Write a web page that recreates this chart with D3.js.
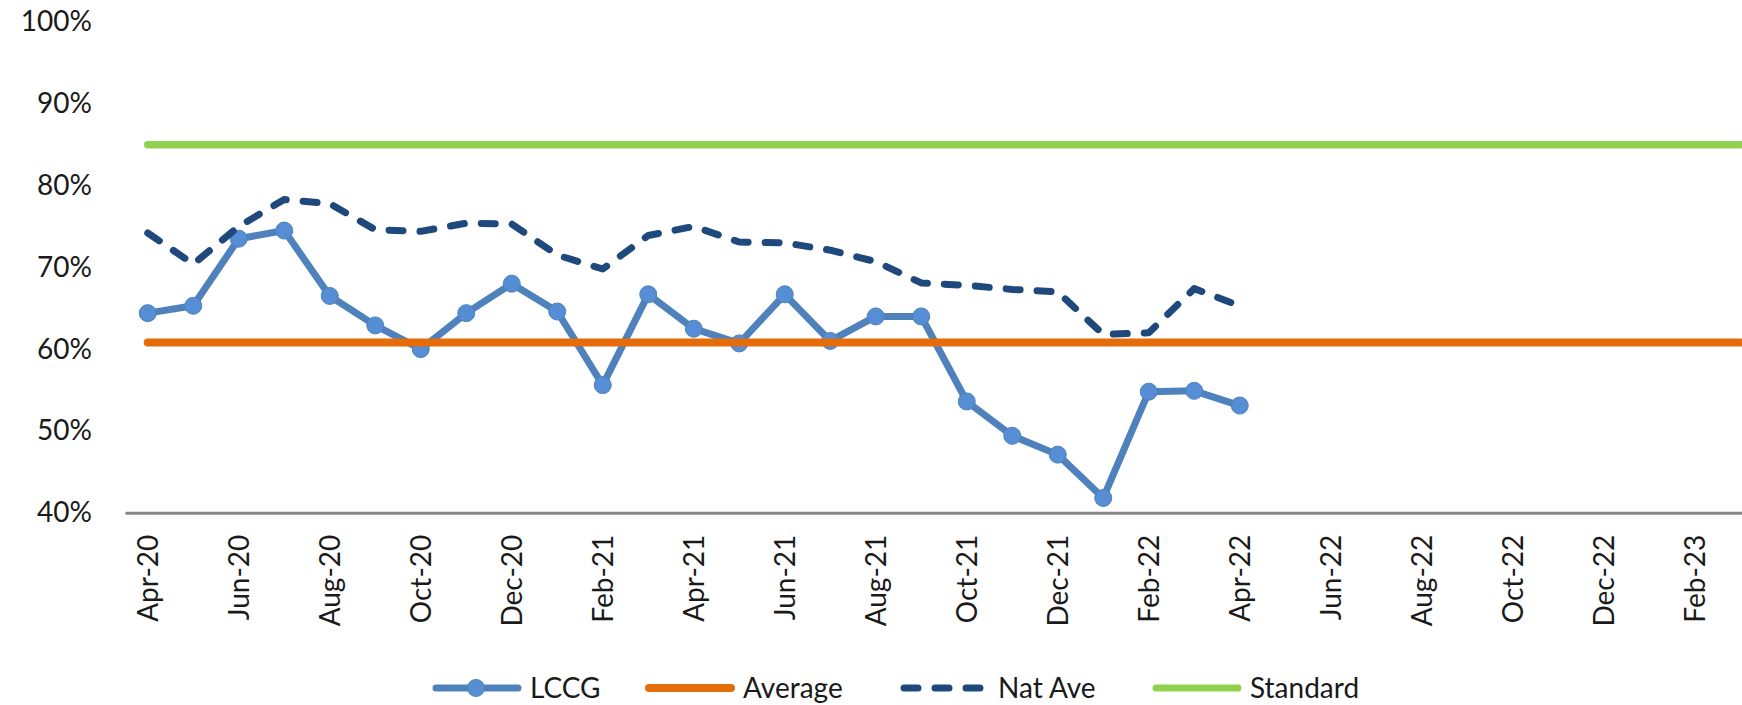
<!DOCTYPE html>
<html>
<head>
<meta charset="utf-8">
<script src="https://cdn.jsdelivr.net/npm/d3@7"></script>
<style>
  body { margin: 0; background: #fff; }
  svg { display: block; font-family: Lato, "Open Sans", sans-serif; }
</style>
</head>
<body>
<div id="chart"></div>
<script>
// months on the category axis (Apr-20 .. Mar-23)
const months = ["Apr-20","May-20","Jun-20","Jul-20","Aug-20","Sep-20","Oct-20","Nov-20","Dec-20",
    "Jan-21","Feb-21","Mar-21","Apr-21","May-21","Jun-21","Jul-21","Aug-21","Sep-21","Oct-21","Nov-21","Dec-21",
    "Jan-22","Feb-22","Mar-22","Apr-22","May-22","Jun-22","Jul-22","Aug-22","Sep-22","Oct-22","Nov-22","Dec-22",
    "Jan-23","Feb-23","Mar-23"];

// LCCG and national average, Apr-20 .. Apr-22
const lccg = [64.4, 65.3, 73.5, 74.5, 66.5, 62.9, 60.0, 64.4, 68.0, 64.6, 55.6, 66.7, 62.5,
    60.7, 66.7, 61.0, 64.0, 64.0, 53.6, 49.4, 47.1, 41.8, 54.8, 54.9, 53.1];
const natAve = [74.2, 70.4, 75.0, 78.3, 77.8, 74.6, 74.4, 75.4, 75.3, 71.5, 69.8, 73.9, 75.0,
    73.1, 73.0, 72.1, 70.7, 68.1, 67.8, 67.3, 67.0, 61.8, 62.0, 67.4, 65.3];

const averageValue = 60.8;
const standardValue = 85;

const yTicks = [0.4, 0.5, 0.6, 0.7, 0.8, 0.9, 1.0];
const xTicks = months.filter(function(d, i) { return i % 2 === 0; });

const legendItems = ["LCCG", "Average", "Nat Ave", "Standard"];

let width = 1742,
    height = 705,
    step = 45.5,
    plotLeft = 125,
    axisY = 512.7,
    legendX = [432, 645, 900, 1152];

const colors = {
    lccg: "#4F81BD",
    marker: "#558ED5",
    average: "#E46C0A",
    natAve: "#1F497D",
    standard: "#92D050",
    text: "#1a1a1a"
};

let x = d3.scaleBand()
    .domain(months)
    .range([plotLeft, plotLeft + months.length * step])
    .padding(0);

function xc(m) {
    return x(m) + x.bandwidth() / 2;
}

let y = d3.scaleLinear()
    .domain([0.4, 1.0])
    .range([axisY, 22]);

var svg = d3.select("#chart").append("svg")
    .attr("width", width)
    .attr("height", height);

// y axis labels only
svg.append("g")
    .attr("transform", "translate(92,0)")
    .call(d3.axisLeft(y).tickValues(yTicks).tickFormat(d3.format(".0%")).tickSize(0).tickPadding(0))
    .call(g => g.select(".domain").remove())
    .selectAll("text")
    .attr("font-family", "Lato")
    .attr("font-size", 28)
    .attr("fill", colors.text);

// x axis
var xAxis = svg.append("g")
    .attr("transform", "translate(0," + axisY + ")")
    .call(d3.axisBottom(x).tickValues(xTicks).tickSize(0).tickSizeOuter(0));

xAxis.select(".domain")
    .attr("stroke", "#868686")
    .attr("stroke-width", 3);

xAxis.selectAll("text")
    .attr("transform", "rotate(-90)")
    .attr("x", -22)
    .attr("y", 0)
    .attr("dy", "0.35em")
    .attr("text-anchor", "end")
    .attr("font-family", "Lato")
    .attr("font-size", 28)
    .attr("fill", colors.text);

function seriesLine(values) {
    return d3.line()
        .x(function(d, i) { return xc(months[i]); })
        .y(function(d) { return y(d / 100); })(values);
}

// LCCG
svg.append("path")
    .attr("d", seriesLine(lccg))
    .attr("fill", "none")
    .attr("stroke", colors.lccg)
    .attr("stroke-width", 7)
    .attr("stroke-linejoin", "round")
    .attr("stroke-linecap", "round");

svg.selectAll(".lccgDot")
    .data(lccg)
    .enter().append("circle")
    .attr("class", "lccgDot")
    .attr("cx", function(d, i) { return xc(months[i]); })
    .attr("cy", function(d) { return y(d / 100); })
    .attr("r", 8.5)
    .attr("fill", colors.marker)
    .attr("stroke", colors.lccg)
    .attr("stroke-width", 1);

// Average
svg.append("line")
    .attr("x1", xc(months[0]))
    .attr("x2", xc(months[months.length - 1]))
    .attr("y1", y(averageValue / 100))
    .attr("y2", y(averageValue / 100))
    .attr("stroke", colors.average)
    .attr("stroke-width", 8)
    .attr("stroke-linecap", "round");

// Nat Ave
svg.append("path")
    .attr("d", seriesLine(natAve))
    .attr("fill", "none")
    .attr("stroke", colors.natAve)
    .attr("stroke-width", 7)
    .attr("stroke-dasharray", "14,17")
    .attr("stroke-linejoin", "round")
    .attr("stroke-linecap", "round");

// Standard
svg.append("line")
    .attr("x1", xc(months[0]))
    .attr("x2", xc(months[months.length - 1]))
    .attr("y1", y(standardValue / 100))
    .attr("y2", y(standardValue / 100))
    .attr("stroke", colors.standard)
    .attr("stroke-width", 7.5)
    .attr("stroke-linecap", "round");

// legend
var legend = svg.append("g")
    .attr("transform", "translate(0,688)");

legendItems.forEach(function(name, i) {
    var g = legend.append("g").attr("transform", "translate(" + legendX[i] + ",0)");
    var sym = g.append("line")
        .attr("x1", 4).attr("x2", 86)
        .attr("y1", 0).attr("y2", 0)
        .attr("stroke-width", 7)
        .attr("stroke-linecap", "round");
    if (name === "LCCG") {
        sym.attr("stroke", colors.lccg);
        g.append("circle").attr("cx", 44).attr("cy", 0).attr("r", 8.5)
            .attr("fill", colors.marker).attr("stroke", colors.lccg);
    } else if (name === "Average") {
        sym.attr("stroke", colors.average).attr("stroke-width", 8);
    } else if (name === "Nat Ave") {
        sym.attr("stroke", colors.natAve)
            .attr("x1", 4).attr("x2", 90)
            .attr("stroke-dasharray", "14,17");
    } else {
        sym.attr("stroke", colors.standard);
    }
    g.append("text")
        .attr("x", 98)
        .attr("y", 0)
        .attr("dy", "0.35em")
        .attr("font-family", "Lato")
        .attr("font-size", 28)
        .attr("fill", colors.text)
        .text(name);
});
</script>
</body>
</html>
